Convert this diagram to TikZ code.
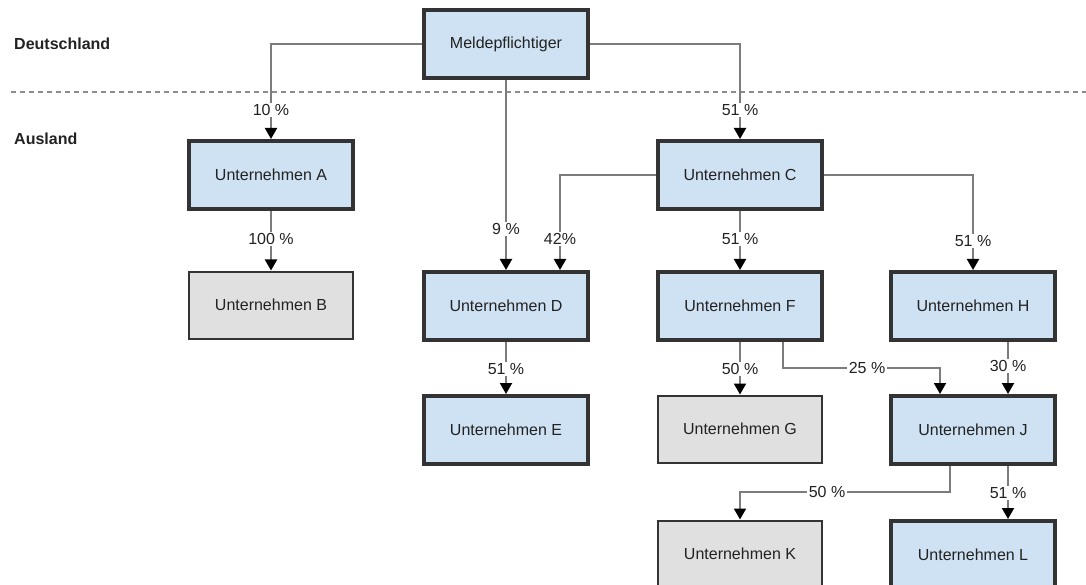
\documentclass[tikz,border=0pt]{standalone}
\usepackage{fontspec}
\setmainfont{Liberation Sans}
\usetikzlibrary{arrows.meta}
\definecolor{boxblue}{HTML}{CFE2F3}
\definecolor{boxgray}{HTML}{E0E0E0}
\definecolor{boxline}{HTML}{333333}
\definecolor{conn}{HTML}{7C7C7C}
\definecolor{dashc}{HTML}{8C8C8C}
\definecolor{txt}{HTML}{222222}
\tikzset{
  company/.style={rectangle, draw=boxline, fill=boxblue, line width=4pt,
    minimum width=164pt, minimum height=68pt, inner sep=0pt, text=txt,
    font=\fontsize{16}{19}\selectfont},
  other/.style={company, fill=boxgray, line width=2pt, minimum width=164pt, minimum height=67pt},
  link/.style={draw=conn, line width=2pt,
    -{Triangle[width=12pt,length=11pt,color=black]}},
  pct/.style={fill=white, inner sep=1.5pt, text=txt, font=\fontsize{16}{19}\selectfont},
  region/.style={anchor=west, inner sep=0pt, text=txt, font=\fontsize{16}{19}\selectfont\bfseries},
  border line/.style={draw=dashc, line width=1.8pt, dash pattern=on 5pt off 4pt}
}
\begin{document}
\begin{tikzpicture}[x=1pt,y=-1pt]
\useasboundingbox (0,0) rectangle (1086,585);
\clip (0,0) rectangle (1086,585);

\node[region] (de) at (14,44) {Deutschland};
\node[region] (aus) at (14,139) {Ausland};
\coordinate (bl) at (11,92);
\coordinate (br) at (1086,92);
\draw[border line] (bl) -- (br);

\node[company] (M) at (506,44) {Meldepflichtiger};
\node[company] (A) at (271,175) {Unternehmen A};
\node[company] (C) at (740,175) {Unternehmen C};
\node[other]   (B) at (271,305) {Unternehmen B};
\node[company] (D) at (506,306) {Unternehmen D};
\node[company] (F) at (740,306) {Unternehmen F};
\node[company] (H) at (973,306) {Unternehmen H};
\node[company] (E) at (506,430) {Unternehmen E};
\node[other]   (G) at (740,429) {Unternehmen G};
\node[company] (J) at (973,430) {Unternehmen J};
\node[other]   (K) at (740,554) {Unternehmen K};
\node[company] (L) at (973,555) {Unternehmen L};

\draw[link] (M.west) -| (A.north);
\draw[link] (M.east) -| (C.north);
\draw[link] (M.south) -- (D.north);
\draw[link] (A.south) -- (B.north);
\draw[link] (C.west) -| ([xshift=54pt]D.north);
\draw[link] (C.south) -- (F.north);
\draw[link] (C.east) -| (H.north);
\draw[link] (D.south) -- (E.north);
\draw[link] (F.south) -- (G.north);
\draw[link] ([xshift=43pt]F.south) -- ++(0,26) -| ([xshift=-33pt]J.north);
\draw[link] ([xshift=35pt]H.south) -- ([xshift=35pt]J.north);
\draw[link] ([xshift=-23pt]J.south) -- ++(0,26) -| (K.north);
\draw[link] ([xshift=35pt]J.south) -- ([xshift=35pt]L.north);

\node[pct] (pA) at (271,110) {10 \%};
\node[pct] (pC) at (740,110) {51 \%};
\node[pct] (pD) at (506,229) {9 \%};
\node[pct] (pCD) at (560,239) {42\%};
\node[pct] (pB) at (271,239) {100 \%};
\node[pct] (pF) at (740,239) {51 \%};
\node[pct] (pH) at (973,241) {51 \%};
\node[pct] (pE) at (506,369) {51 \%};
\node[pct] (pG) at (740,369) {50 \%};
\node[pct] (pFJ) at (867,368) {25 \%};
\node[pct] (pJ) at (1008,366) {30 \%};
\node[pct] (pK) at (827,492) {50 \%};
\node[pct] (pL) at (1008,493) {51 \%};
\end{tikzpicture}
\end{document}
